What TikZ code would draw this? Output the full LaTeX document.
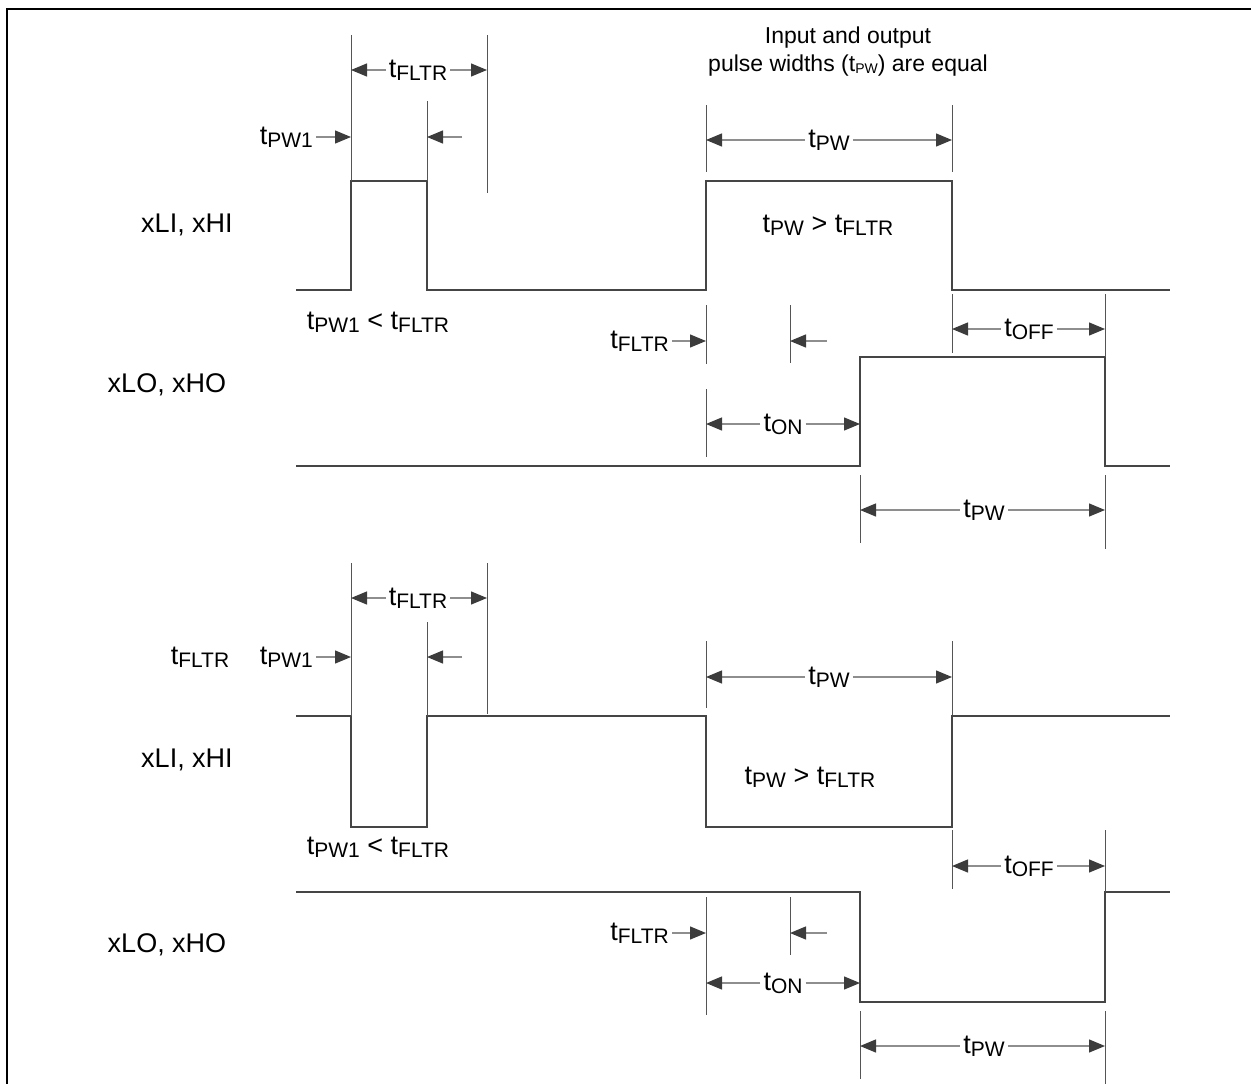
\documentclass[tikz,border=0pt]{standalone}
\usepackage{fontspec}
\setmainfont{Liberation Sans}
\usetikzlibrary{arrows.meta}
\definecolor{gris}{HTML}{454545}
\definecolor{grisguia}{HTML}{555555}
\definecolor{griscota}{HTML}{8E8E8E}
\definecolor{punta}{HTML}{3C3C3C}
\newcommand{\tsub}[1]{t\raisebox{-3pt}{\fontsize{21}{21}\selectfont #1}}
\newcommand{\tchico}[1]{t\raisebox{-2pt}{\fontsize{14}{14}\selectfont #1}}

\begin{document}
\begin{tikzpicture}[x=1pt,y=-1pt,
      senal/.style={draw=gris,line width=1.4pt},
      guia/.style={draw=grisguia,line width=1pt},
      cota/.style={-{Triangle[length=16pt,width=13pt,color=punta]},draw=griscota,line width=1.3pt},
      lbl/.style={inner sep=3pt,font=\fontsize{27}{30}\selectfont},
      nota/.style={align=center,font=\fontsize{23}{28}\selectfont}]
    \useasboundingbox (0,0) rectangle (1251,1084);
    \draw[line width=2.5pt] (7,1084) -- (7,9) -- (1251,9);
    % columnas de referencia
    \coordinate (xa) at (351,0);
    \coordinate (xb) at (427,0);
    \coordinate (xc) at (487,0);
    \coordinate (xd) at (706,0);
    \coordinate (xe) at (790,0);
    \coordinate (xf) at (860,0);
    \coordinate (xg) at (952,0);
    \coordinate (xh) at (1105,0);
    % senales
    \draw[senal] (296,290) -| (351,181) -| (427,290) -| (706,181) -| (952,290) -- (1170,290);
    \draw[senal] (296,466) -| (860,357) -| (1105,466) -- (1170,466);
    \draw[senal] (296,716) -| (351,827) -| (427,716) -| (706,827) -| (952,716) -- (1170,716);
    \draw[senal] (296,892) -| (860,1002) -| (1105,892) -- (1170,892);
    % lineas guia
    \foreach \x/\ya/\yb in {351/35/181,427/101/181,487/35/193,706/105/172,952/105/172,
        706/305/364,790/305/363,952/294/353,1105/294/357,706/389/457,860/475/543,1105/475/549,
        351/563/716,427/622/716,487/563/714,706/641/708,952/641/715,
        952/830/889,1105/830/892,706/897/1015,790/897/955,860/1011/1079,1105/1011/1084}
      \draw[guia] (\x,\ya) -- (\x,\yb);
    % diagrama superior
    \node[nota] (nota) at (848,52) {Input and output\\pulse widths (\tchico{PW}) are equal};
    \node[lbl] (inA) at (187,225) {xLI, xHI};
    \node[lbl] (outA) at (167,385) {xLO, xHO};
    \node[lbl] (fltrA) at (418,70) {\tsub{FLTR}};
    \node[lbl,anchor=east] (pwunoA) at (316,137) {\tsub{PW1}};
    \coordinate (libreA) at (462,137);
    \node[lbl] (pwA) at (829,140) {\tsub{PW}};
    \node[lbl] (condA) at (828,225) {\tsub{PW} > \tsub{FLTR}};
    \node[lbl] (conduA) at (378,322) {\tsub{PW1} < \tsub{FLTR}};
    \node[lbl,anchor=east] (fltrB) at (672,341) {\tsub{FLTR}};
    \coordinate (libreB) at (827,341);
    \node[lbl] (offA) at (1029,329) {\tsub{OFF}};
    \node[lbl] (onA) at (783,424) {\tsub{ON}};
    \node[lbl] (pwB) at (984,510) {\tsub{PW}};
    \draw[cota] (fltrA) -- (fltrA -| xa);
    \draw[cota] (fltrA) -- (fltrA -| xc);
    \draw[cota] (pwunoA) -- (pwunoA -| xa);
    \draw[cota] (libreA) -- (libreA -| xb);
    \draw[cota] (pwA) -- (pwA -| xd);
    \draw[cota] (pwA) -- (pwA -| xg);
    \draw[cota] (fltrB) -- (fltrB -| xd);
    \draw[cota] (libreB) -- (libreB -| xe);
    \draw[cota] (offA) -- (offA -| xg);
    \draw[cota] (offA) -- (offA -| xh);
    \draw[cota] (onA) -- (onA -| xd);
    \draw[cota] (onA) -- (onA -| xf);
    \draw[cota] (pwB) -- (pwB -| xf);
    \draw[cota] (pwB) -- (pwB -| xh);
    % diagrama inferior
    \node[lbl] (inB) at (187,760) {xLI, xHI};
    \node[lbl] (outB) at (167,945) {xLO, xHO};
    \node[lbl] (fltrC) at (418,598) {\tsub{FLTR}};
    \node[lbl] (fltrD) at (200,657) {\tsub{FLTR}};
    \node[lbl,anchor=east] (pwunoB) at (316,657) {\tsub{PW1}};
    \coordinate (libreC) at (462,657);
    \node[lbl] (pwC) at (829,677) {\tsub{PW}};
    \node[lbl] (condB) at (810,777) {\tsub{PW} > \tsub{FLTR}};
    \node[lbl] (conduB) at (378,847) {\tsub{PW1} < \tsub{FLTR}};
    \node[lbl] (offB) at (1029,866) {\tsub{OFF}};
    \node[lbl,anchor=east] (fltrE) at (672,933) {\tsub{FLTR}};
    \coordinate (libreD) at (827,933);
    \node[lbl] (onB) at (783,983) {\tsub{ON}};
    \node[lbl] (pwD) at (984,1046) {\tsub{PW}};
    \draw[cota] (fltrC) -- (fltrC -| xa);
    \draw[cota] (fltrC) -- (fltrC -| xc);
    \draw[cota] (pwunoB) -- (pwunoB -| xa);
    \draw[cota] (libreC) -- (libreC -| xb);
    \draw[cota] (pwC) -- (pwC -| xd);
    \draw[cota] (pwC) -- (pwC -| xg);
    \draw[cota] (offB) -- (offB -| xg);
    \draw[cota] (offB) -- (offB -| xh);
    \draw[cota] (fltrE) -- (fltrE -| xd);
    \draw[cota] (libreD) -- (libreD -| xe);
    \draw[cota] (onB) -- (onB -| xd);
    \draw[cota] (onB) -- (onB -| xf);
    \draw[cota] (pwD) -- (pwD -| xf);
    \draw[cota] (pwD) -- (pwD -| xh);
  \end{tikzpicture}
\end{document}
